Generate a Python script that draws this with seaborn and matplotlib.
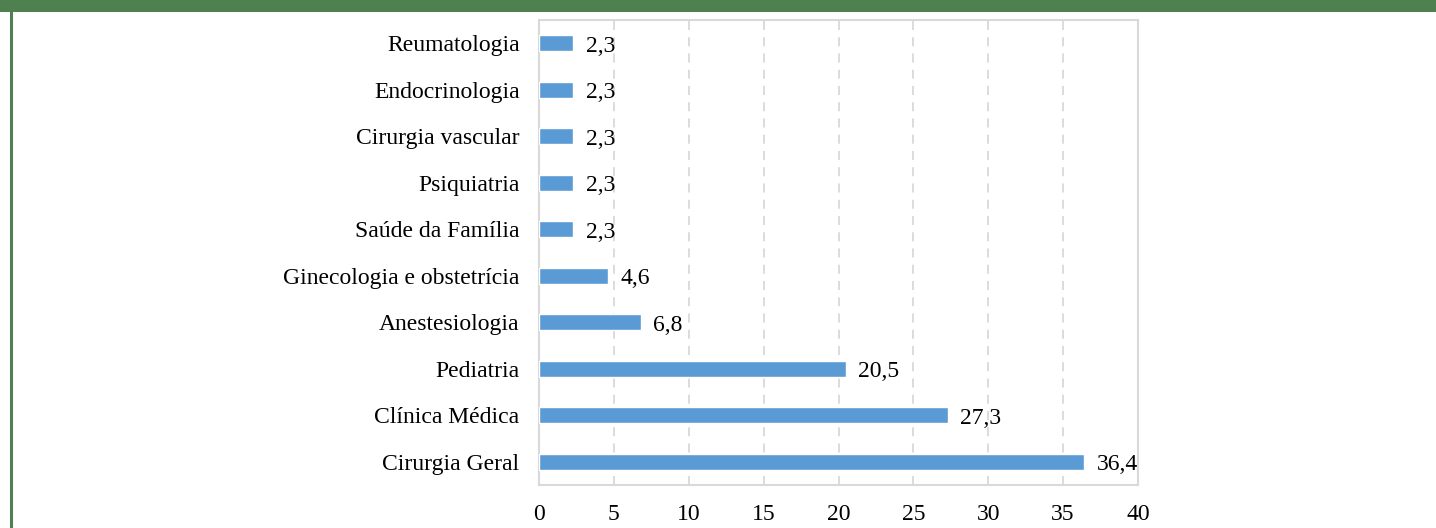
import matplotlib
matplotlib.use("Agg")
import matplotlib.pyplot as plt
import seaborn as sns
import pandas as pd
from matplotlib.patches import Rectangle
from matplotlib.lines import Line2D

categories = ["Reumatologia", "Endocrinologia", "Cirurgia vascular", "Psiquiatria",
              "Saúde da Família", "Ginecologia e obstetrícia", "Anestesiologia",
              "Pediatria", "Clínica Médica", "Cirurgia Geral"]
values = [2.3, 2.3, 2.3, 2.3, 2.3, 4.6, 6.8, 20.5, 27.3, 36.4]
xticks = [0, 5, 10, 15, 20, 25, 30, 35, 40]

sns.set_theme(style="white")
plt.rcParams['font.family'] = ['Liberation Serif', 'DejaVu Serif']

FS = 17

df = pd.DataFrame({"cat": categories, "val": values})

fig = plt.figure(figsize=(14.36, 5.28), dpi=100)
ax = fig.add_axes([539/1436, 1 - 485/528, (1138-539)/1436, (485-20)/528])

sns.barplot(data=df, y="cat", x="val", orient="h", color="#5B9BD5",
            width=0.35, saturation=1, ax=ax, zorder=3)

ax.set_xlim(0, 40)
ax.set_ylim(9.5, -0.5)
ax.set_xticks(xticks)
ax.set_xticklabels([str(t) for t in xticks], fontsize=FS)
ax.set_ylabel("")
ax.set_xlabel("")
ax.tick_params(axis="y", labelsize=FS, length=0, pad=14)
ax.tick_params(axis="x", length=0, pad=14)
for t in ax.get_yticklabels() + ax.get_xticklabels():
    t.set_color("#000000")

for x in xticks[1:-1]:
    ax.axvline(x, color="#D9D9D9", linestyle=(0, (5, 4)), linewidth=1.3, zorder=1)

for s in ax.spines.values():
    s.set_visible(True)
    s.set_color("#D9D9D9")
    s.set_linewidth(1.5)

for i, v in enumerate(values):
    ax.annotate(f"{v:.1f}".replace(".", ","), xy=(v, i), xytext=(9, -2),
                textcoords="offset points", ha="left", va="center",
                fontsize=FS, color="#000000")

fig.patches.append(Rectangle((0, 1 - 12/528), 1, 12/528, transform=fig.transFigure,
                             facecolor="#4F8150", edgecolor="none", zorder=10))
fig.lines.append(Line2D([10.5/1436, 10.5/1436], [0, 1], transform=fig.transFigure,
                        color="#4F8150", linewidth=2.2, zorder=10))

fig.savefig("out.png", dpi=100, facecolor="white")
